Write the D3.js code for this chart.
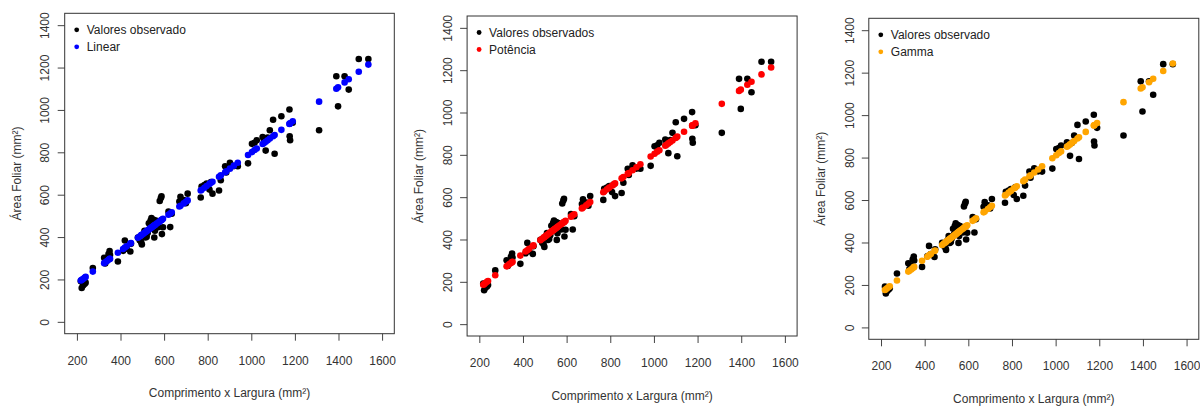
<!DOCTYPE html>
<html lang="pt">
<head>
<meta charset="utf-8" />
<title>Área Foliar - ajustes</title>
<style>
  body { margin:0; background:#fff; }
  svg  { display:block; font-family:"Liberation Sans", Arial, sans-serif; }
  .tick text { font-size:12px; fill:#333; }
  .tick line { stroke:#444; }
  .lab  { font-size:12px; fill:#333; }
  .leg  { font-size:12px; fill:#222; }
</style>
</head>
<body>
<svg width="1200" height="406"></svg>
<script src="https://cdn.jsdelivr.net/npm/d3@7"></script>
<script>
/* ---------- DATA ---------- */
// comprimento x largura (mm²) das folhas
const obsX = [218,222,228,235,240,273,325,330,338,345,350,352,388,412,420,428,445,448,
  480,488,495,498,505,510,515,520,525,530,535,538,542,545,548,552,555,558,562,568,575,
  580,585,588,590,595,620,628,635,670,675,690,700,708,768,772,785,795,808,815,822,852,
  860,880,885,902,920,938,985,1003,1015,1025,1052,1058,1066,1075,1085,1100,1107,1138,
  1175,1176,1178,1190,1311,1390,1398,1428,1447,1493,1537];
// área foliar observada (mm²)
const obsY = [192,160,172,178,185,254,302,275,290,320,334,315,285,335,384,345,332,368,
  398,385,375,365,410,430,398,402,420,465,440,478,490,455,470,482,398,430,478,462,447,
  570,584,592,414,446,520,447,510,568,590,575,560,605,587,639,645,652,624,660,605,620,
  668,734,705,750,735,734,748,840,845,857,872,860,808,870,904,954,793,970,
  1002,876,857,940,904,1159,1017,1159,1096,1240,1240];
// valores ajustados
const fitLinear = [195,198,202,208,212,237,277,281,287,293,297,298,326,344,351,357,370,372,
  397,403,409,411,416,420,424,428,432,436,440,442,445,447,450,453,455,457,460,465,470,
  474,478,481,482,486,505,511,517,544,548,559,567,573,620,623,633,641,651,656,661,685,
  691,706,710,723,737,751,787,801,811,818,839,844,850,857,865,876,882,906,
  934,935,937,946,1039,1100,1107,1130,1145,1180,1214];
const fitPotencia = [186,189,194,200,204,231,273,277,284,289,293,295,324,343,349,356,369,372,
  397,403,409,411,417,421,425,429,433,437,441,443,446,449,451,454,457,459,462,467,472,
  476,480,482,484,488,508,514,519,547,551,562,570,577,623,627,637,645,654,660,665,689,
  695,710,714,727,741,755,792,805,815,822,843,848,854,861,868,880,886,909,
  938,938,940,949,1041,1102,1108,1131,1145,1180,1213];
const fitGamma = [176,180,184,190,194,221,263,267,273,279,283,285,314,333,340,346,360,362,
  388,395,400,403,409,413,417,421,425,429,433,435,438,441,443,447,449,451,455,460,465,
  469,473,476,477,481,502,508,514,542,546,558,566,573,621,625,635,643,654,659,665,689,
  696,712,716,730,744,759,797,811,821,829,851,856,862,870,878,890,896,921,
  951,951,953,963,1061,1125,1131,1155,1171,1208,1243];

const xTicks = [200,400,600,800,1000,1200,1400,1600];
const yTicks = [0,200,400,600,800,1000,1200,1400];

/* ---------- PANELS ---------- */
const panels = [
  { left:64.7,  top:13.3, right:394.3,  bottom:333.7, fit:fitLinear,   color:"#0000ff",
    legend:["Valores observado","Linear"] },
  { left:467.1, top:16,   right:797.1,  bottom:336,   fit:fitPotencia, color:"#ff0000",
    legend:["Valores observados","Potência"] },
  { left:868.8, top:18.3, right:1198.8, bottom:339.3, fit:fitGamma,    color:"#ffa500",
    legend:["Valores observado","Gamma"] }
];

const svg = d3.select("svg");

panels.forEach(p => {
  // R style: 4% padding around xlim=c(200,1600), ylim=c(0,1400)
  const x = d3.scaleLinear().domain([144,1656]).range([p.left,p.right]);
  const y = d3.scaleLinear().domain([-56,1456]).range([p.bottom,p.top]);
  const g = svg.append("g");

  // x axis
  const gx = g.append("g").attr("transform",`translate(0,${p.bottom})`)
    .call(d3.axisBottom(x).tickValues(xTicks).tickSize(7).tickFormat(d3.format("d")));
  gx.select(".domain").remove();
  gx.selectAll("text").attr("y",27).attr("dy","0.35em");

  // y axis, vertical labels
  const gy = g.append("g").attr("transform",`translate(${p.left},0)`)
    .call(d3.axisLeft(y).tickValues(yTicks).tickSize(7).tickFormat(d3.format("d")));
  gy.select(".domain").remove();
  gy.selectAll("text")
    .attr("x",null).attr("dy","0.35em")
    .attr("text-anchor","middle")
    .attr("transform","translate(-19.5,0) rotate(-90)");

  // box
  g.append("rect")
    .attr("x",p.left).attr("y",p.top)
    .attr("width",p.right-p.left).attr("height",p.bottom-p.top)
    .attr("fill","none").attr("stroke","#333").attr("stroke-width",1);

  // axis titles
  g.append("text").attr("class","lab")
    .attr("x",(p.left+p.right)/2).attr("y",p.bottom+59.5).attr("dy","0.35em")
    .attr("text-anchor","middle")
    .text("Comprimento x Largura (mm²)");
  g.append("text").attr("class","lab")
    .attr("text-anchor","middle").attr("dy","0.35em")
    .attr("transform",`translate(${p.left-48},${(p.top+p.bottom)/2}) rotate(-90)`)
    .text("Área Foliar (mm²)");

  // observed points
  g.append("g").selectAll("circle")
    .data(obsX.map((v,i)=>[v,obsY[i]]))
    .join("circle")
      .attr("cx",d=>x(d[0])).attr("cy",d=>y(d[1]))
      .attr("r",3.3).attr("fill","#000");

  // fitted points
  g.append("g").selectAll("circle")
    .data(obsX.map((v,i)=>[v,p.fit[i]]))
    .join("circle")
      .attr("cx",d=>x(d[0])).attr("cy",d=>y(d[1]))
      .attr("r",3.3).attr("fill",p.color);

  // legend (no box)
  const leg = g.append("g");
  [["#000",p.legend[0]],[p.color,p.legend[1]]].forEach(([c,t],i) => {
    const ly = p.top + 16.5 + i*17;
    leg.append("circle").attr("cx",p.left+12).attr("cy",ly).attr("r",2.4).attr("fill",c);
    leg.append("text").attr("class","leg")
      .attr("x",p.left+22).attr("y",ly).attr("dy","0.35em").text(t);
  });
});
</script>
</body>
</html>
